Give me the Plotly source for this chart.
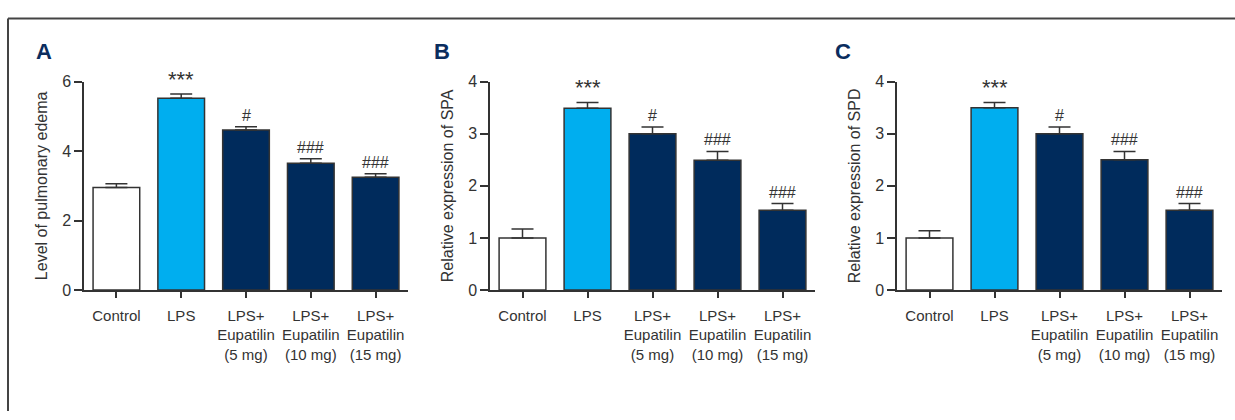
import plotly.graph_objects as go

W, H = 1235, 420

categories = ["Control", "LPS", "LPS+<br>Eupatilin<br>(5 mg)",
              "LPS+<br>Eupatilin<br>(10 mg)", "LPS+<br>Eupatilin<br>(15 mg)"]
edema = [2.95, 5.52, 4.61, 3.65, 3.25]
edema_err = [0.11, 0.12, 0.09, 0.13, 0.10]
spa = [1.0, 3.49, 3.0, 2.49, 1.53]
spa_err = [0.17, 0.11, 0.13, 0.17, 0.13]
spd = [1.0, 3.5, 3.0, 2.5, 1.53]
spd_err = [0.14, 0.10, 0.13, 0.16, 0.13]
sig = ["", "***", "#", "###", "###"]
panel_letters = ["A", "B", "C"]
y_titles = ["Level of pulmonary edema", "Relative expression of SPA", "Relative expression of SPD"]
y_ranges = [[0, 6], [0, 4], [0, 4]]
y_dticks = [2, 1, 1]

bar_colors = ["#FFFFFF", "#00AEEF", "#002B5C", "#002B5C", "#002B5C"]
FONT = "Liberation Sans, Arial, sans-serif"
TXT = "#333333"
FS = 16
FSX = 15

# pixel layout of each panel: (x_left, x_right)
panels_px = [(84, 408), (490, 815), (897, 1222)]
y_top_px, y_bot_px = 76.7, 294
letter_px = [34, 432, 833]

def px_x(p):
    return p / W

def px_y(p):
    return 1 - p / H

fig = go.Figure()
series = [(edema, edema_err), (spa, spa_err), (spd, spd_err)]
annotations = []
for i, (vals, errs) in enumerate(series):
    ax = "" if i == 0 else str(i + 1)
    fig.add_trace(go.Bar(
        x=categories, y=vals,
        marker=dict(color=bar_colors, line=dict(color=TXT, width=1.5)),
        width=0.72,
        error_y=dict(type="data", array=errs, arrayminus=[0] * len(errs), symmetric=False,
                     color=TXT, thickness=1.5, width=11),
        xaxis="x" + ax, yaxis="y" + ax, showlegend=False, hoverinfo="skip",
    ))
    for c, v, e, s in zip(categories, vals, errs, sig):
        if s:
            annotations.append(dict(x=c, y=v + e, xref="x" + ax, yref="y" + ax, text=s,
                                    showarrow=False, yanchor="bottom",
                                    yshift=0 if s.startswith("*") else 1,
                                    font=dict(family=FONT, size=22 if s.startswith("*") else FS,
                                              color=TXT)))
    annotations.append(dict(x=px_x(letter_px[i]), y=px_y(45.5), xref="paper", yref="paper",
                            text="<b>%s</b>" % panel_letters[i], showarrow=False,
                            xanchor="left", yanchor="middle",
                            font=dict(family=FONT, size=22, color="#0B2D5E")))
    xl, xr = panels_px[i]
    fig.layout["xaxis" + ax] = dict(
        domain=[px_x(xl), px_x(xr)], anchor="y" + ax, type="category", range=[-0.5, 4.5],
        showline=True, linecolor=TXT, linewidth=1.5, ticks="outside", ticklen=6, tickwidth=1.5,
        tickcolor=TXT, showgrid=False, zeroline=False, tickangle=0, ticklabelstandoff=5,
        tickfont=dict(family=FONT, size=FSX, color=TXT),
    )
    fig.layout["yaxis" + ax] = dict(
        domain=[px_y(y_bot_px), px_y(y_top_px)], anchor="x" + ax, range=y_ranges[i],
        dtick=y_dticks[i], showline=True, linecolor=TXT, linewidth=1.5, ticks="outside",
        ticklen=8, tickwidth=1.5, tickcolor=TXT, showgrid=False, zeroline=False,
        tickfont=dict(family=FONT, size=FS, color=TXT),
        title=dict(text=y_titles[i], font=dict(family=FONT, size=FS, color=TXT), standoff=11),
    )

shapes = [
    dict(type="line", xref="paper", yref="paper", x0=px_x(8), x1=px_x(8), y0=0, y1=px_y(11),
         line=dict(color="#444444", width=2)),
    dict(type="line", xref="paper", yref="paper", x0=px_x(8), x1=1, y0=px_y(11), y1=px_y(11),
         line=dict(color="#444444", width=2)),
]

fig.update_layout(
    width=W, height=H, margin=dict(l=0, r=0, t=0, b=0),
    paper_bgcolor="white", plot_bgcolor="white",
    annotations=annotations, shapes=shapes,
)

fig.write_html("out.html", config={"displayModeBar": False},
               post_script="document.body.style.margin='0';document.body.style.overflow='hidden';")
